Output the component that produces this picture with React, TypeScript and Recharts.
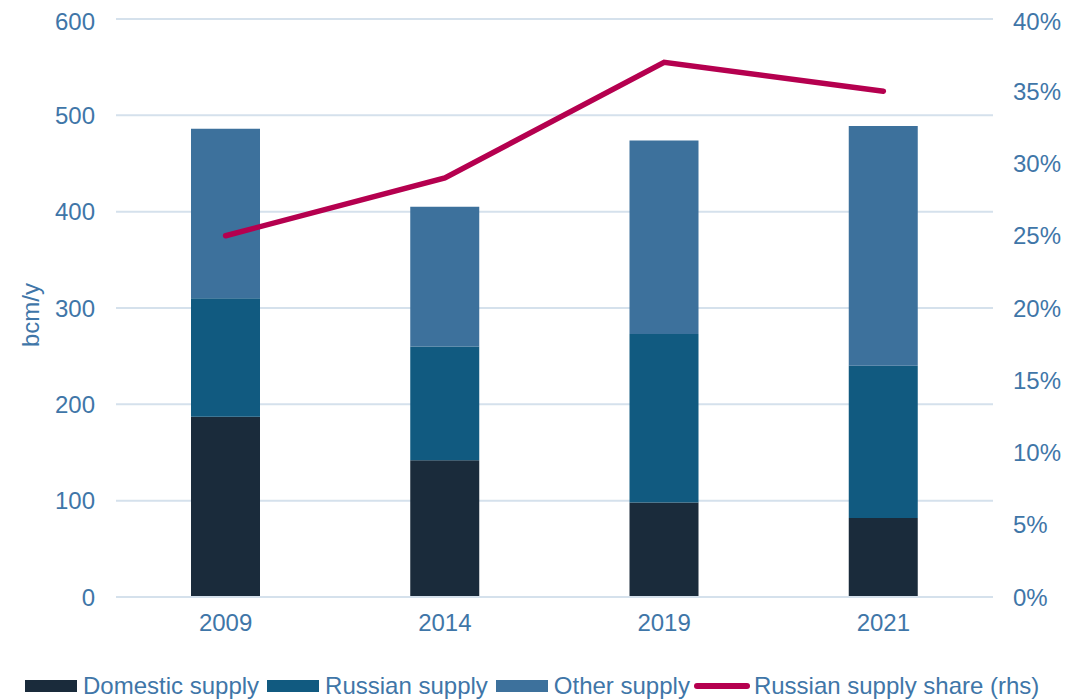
import React from 'react';
import { ComposedChart, Bar, Line, XAxis, YAxis, CartesianGrid, Legend } from 'recharts';

const years = ['2009', '2014', '2019', '2021'];
const domesticSupply = [187, 142, 98, 82];
const russianSupply = [123, 118, 175, 158];
const otherSupply = [176, 145, 201, 249];
const russianShare = [0.25, 0.29, 0.37, 0.35];

const leftTicks = [0, 100, 200, 300, 400, 500, 600];
const rightTicks = [0, 0.05, 0.1, 0.15, 0.2, 0.25, 0.3, 0.35, 0.4];

const data = years.map((y, i) => ({
  year: y,
  domestic: domesticSupply[i],
  russian: russianSupply[i],
  other: otherSupply[i],
  share: russianShare[i],
}));

const TEXT = '#3F76A8';
const GRID = '#D5E1EC';
const C_DOM = '#1A2B3B';
const C_RUS = '#115A80';
const C_OTH = '#3D719C';
const C_LINE = '#B5004F';
const FONT = '"Liberation Sans", Arial, sans-serif';
const FS = 24;

const legendItems = [
  { label: 'Domestic supply', color: C_DOM, type: 'rect' },
  { label: 'Russian supply', color: C_RUS, type: 'rect' },
  { label: 'Other supply', color: C_OTH, type: 'rect' },
  { label: 'Russian supply share (rhs)', color: C_LINE, type: 'line' },
];

const LegendContent = () => (
  <div
    style={{
      height: 63,
      boxSizing: 'border-box',
      paddingTop: 34,
      paddingLeft: 17,
      display: 'flex',
      alignItems: 'center',
      fontFamily: FONT,
      fontSize: FS,
      color: TEXT,
      whiteSpace: 'nowrap',
    }}
  >
    {legendItems.map((it) => (
      <div
        key={it.label}
        style={{ display: 'flex', alignItems: 'center', marginRight: 8, marginLeft: it.type === 'line' ? -4 : 0 }}
      >
        {it.type === 'rect' ? (
          <span style={{ display: 'inline-block', width: 52, height: 12, background: it.color, marginRight: 6 }} />
        ) : (
          <span style={{ display: 'inline-block', width: 56, height: 6, borderRadius: 3, background: it.color, marginRight: 4 }} />
        )}
        <span>{it.label}</span>
      </div>
    ))}
  </div>
);

const YLabel = (props: any) => {
  const vb = props.viewBox || { x: 0, y: 0, width: 0, height: 0 };
  const x = vb.x + 25;
  const y = vb.y + vb.height / 2 + 7;
  return (
    <text
      x={x}
      y={y}
      transform={`rotate(-90, ${x}, ${y})`}
      textAnchor="middle"
      dominantBaseline="middle"
      fill={TEXT}
      fontSize={FS}
      fontFamily={FONT}
    >
      bcm/y
    </text>
  );
};

export default function App() {
  const tickStyle = { fill: TEXT, fontSize: FS, fontFamily: FONT };
  return (
    <div style={{ width: 1081, height: 692, fontFamily: FONT }}>
      <ComposedChart
        width={1081}
        height={692}
        data={data}
        margin={{ top: 11, right: 0, left: 0, bottom: 0 }}
      >
        <CartesianGrid vertical={false} stroke={GRID} strokeWidth={2} yAxisId="left" />
        <XAxis
          dataKey="year"
          tick={tickStyle}
          tickLine={false}
          axisLine={{ stroke: GRID, strokeWidth: 2 }}
          tickMargin={11}
          height={40}
        />
        <YAxis
          yAxisId="left"
          domain={[0, 600]}
          ticks={leftTicks}
          tick={tickStyle}
          tickLine={false}
          axisLine={false}
          tickMargin={15}
          width={108}
          label={<YLabel />}
        />
        <YAxis
          yAxisId="right"
          orientation="right"
          domain={[0, 0.4]}
          ticks={rightTicks}
          tick={{ ...tickStyle, textAnchor: 'start' }}
          tickFormatter={(v: number) => `${Math.round(v * 100)}%`}
          tickLine={false}
          axisLine={false}
          tickMargin={14}
          width={96}
        />
        <Legend
          verticalAlign="bottom"
          content={<LegendContent />}
          wrapperStyle={{ left: 0, width: 1081 }}
        />
        <Bar yAxisId="left" dataKey="domestic" stackId="s" fill={C_DOM} barSize={69} isAnimationActive={false} />
        <Bar yAxisId="left" dataKey="russian" stackId="s" fill={C_RUS} barSize={69} isAnimationActive={false} />
        <Bar yAxisId="left" dataKey="other" stackId="s" fill={C_OTH} barSize={69} isAnimationActive={false} />
        <Line
          yAxisId="right"
          dataKey="share"
          stroke={C_LINE}
          strokeWidth={5.5}
          strokeLinecap="round"
          dot={false}
          activeDot={false}
          isAnimationActive={false}
        />
      </ComposedChart>
    </div>
  );
}
